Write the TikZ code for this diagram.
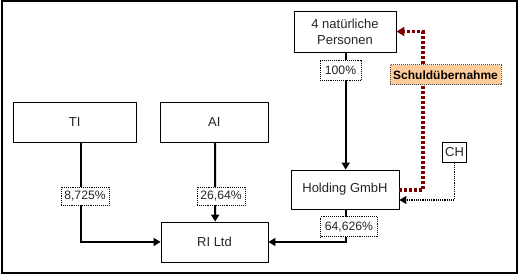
\documentclass[tikz,border=0pt]{standalone}
\usepackage{fontspec}
\setmainfont{Liberation Sans}
\usetikzlibrary{arrows.meta,calc}
\definecolor{darkred}{HTML}{800000}
\definecolor{peach}{HTML}{FFCC99}
\begin{document}
\begin{tikzpicture}[x=1pt,y=-1pt,
  box/.style={draw,line width=0.8pt,fill=white,align=center,inner sep=0pt,
    font=\fontsize{13}{15}\selectfont,text=black!85},
  pct/.style={draw,densely dotted,line width=0.9pt,fill=white,inner sep=0pt,
    font=\fontsize{12.2}{14}\selectfont,text=black!85},
  link/.style={line width=2pt,-{Triangle[length=7pt,width=8pt]}},
  debt/.style={draw=darkred,line width=3.2pt,dash pattern=on 3pt off 2pt,
    -{Triangle[length=8pt,width=9pt,fill=darkred]}},
  chline/.style={line width=1.2pt,densely dotted,-{Triangle[length=7pt,width=8pt]}}]
\useasboundingbox (0,0) rectangle (519,275);
\draw[line width=1.5pt] (2,1) rectangle (517,273);

\node[box,minimum width=102pt,minimum height=41pt] (P) at (345,31.5) {4 natürliche\\[1pt]Personen};
\node[box,minimum width=108pt,minimum height=39pt] (H) at (345,189.5) {Holding GmbH};
\node[box,minimum width=24pt,minimum height=20pt] (CH) at (454.5,152.3) {CH};
\node[box,minimum width=107pt,minimum height=40pt] (RI) at (214.5,242) {RI Ltd};
\node[box,minimum width=123pt,minimum height=40pt] (TI) at (74.7,122.3) {TI};
\node[box,minimum width=108pt,minimum height=40pt] (AI) at (214.3,122.3) {AI};

\coordinate (r) at (423,31.5);

\draw[link] ($(P.south)+(0.7,0)$) -- ($(H.north)+(0.7,0)$);
\draw[link] ($(H.south)+(0.7,0)$) |- (RI.east);
\draw[link] ($(TI.south)+(6.3,0)$) |- (RI.west);
\draw[link] ($(AI.south)+(0.7,0)$) -- ($(RI.north)+(0.7,0)$);
\draw[debt] ($(H.east)+(0,0.5)$) -| (r) -- (P.east);
\draw[chline] (CH.south) |- ($(H.east)+(0,10.5)$);

\node[pct,minimum width=41pt,minimum height=20pt] (l100) at (340.5,70.3) {100\%};
\node[pct,minimum width=48pt,minimum height=18pt] (l8) at (85,196) {8,725\%};
\node[pct,minimum width=48pt,minimum height=18pt] (l26) at (221,196) {26,64\%};
\node[pct,minimum width=57pt,minimum height=20pt] (l64) at (349,226.7) {64,626\%};
\node[draw=black!70,densely dotted,line width=1pt,fill=peach,inner sep=0pt,
  minimum width=111pt,minimum height=20pt,font=\fontsize{12}{14}\selectfont\bfseries]
  (S) at (445.5,75) {Schuldübernahme};
\end{tikzpicture}
\end{document}
